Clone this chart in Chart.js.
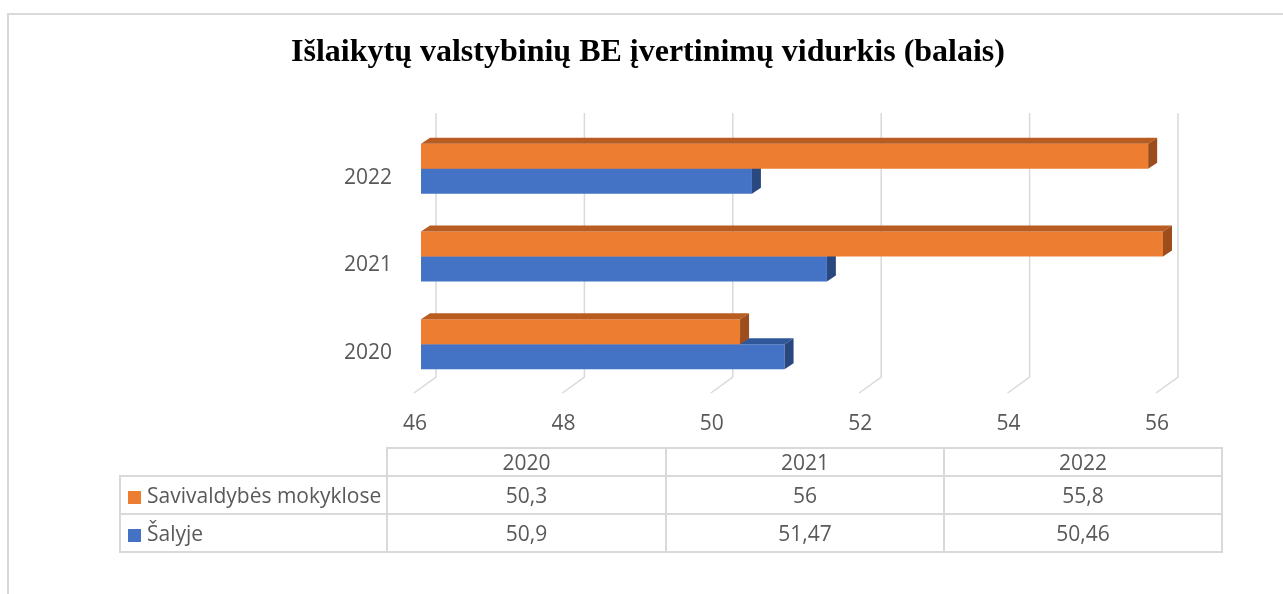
<!DOCTYPE html>
<html>
<head>
<meta charset="utf-8">
<script src="https://cdn.jsdelivr.net/npm/chart.js@4.4.0/dist/chart.umd.min.js"></script>
<style>
  html, body { margin: 0; padding: 0; background: #fff; overflow: hidden; width: 1283px; height: 594px; }
  #frame { position: absolute; left: 7px; top: 13px; width: 1400px; height: 700px; border: 2px solid #d9d9d9; box-sizing: border-box; }
  #wrap { position: absolute; left: 0; top: 0; width: 1283px; height: 594px; }
  #tbl { position: absolute; left: 119px; top: 447px; border-collapse: collapse; font-family: "Open Sans", sans-serif; font-size: 21px; color: #595959; }
  #tbl td { border: 2px solid #d9d9d9; text-align: center; padding: 0; line-height: 1; }
  #tbl tr.h td { height: 26px; }
  #tbl tr.d td { height: 36px; }
  #tbl td.blank { border-top: none; border-left: none; }
  #tbl td.lab { text-align: left; padding-left: 7px; white-space: nowrap; }
  .mk { display: inline-block; width: 13px; height: 13px; margin-right: 6px; vertical-align: -1px; }
</style>
</head>
<body>
<div id="frame"></div>
<div id="wrap"><canvas id="c" width="1283" height="594"></canvas></div>
<table id="tbl"></table>
<script>
const title = 'Išlaikytų valstybinių BE įvertinimų vidurkis (balais)';
const categories = ['2020', '2021', '2022'];
const seriesNames = ['Savivaldybės mokyklose', 'Šalyje'];
const savivaldybes = [50.3, 56, 55.8];
const salyje = [50.9, 51.47, 50.46];
const xTicks = [46, 48, 50, 52, 54, 56];

const colors = {
  front: ['#ED7D31', '#4472C4'],
  top:   ['#B85C22', '#31579B'],
  side:  ['#9D4D1C', '#2A4880']
};
const DX = 9, DY = 6;

const gridPlugin = {
  id: 'grid3d',
  beforeDatasetsDraw(chart) {
    const xs = chart.scales.x, a = chart.chartArea, ctx = chart.ctx;
    ctx.save();
    ctx.strokeStyle = '#d9d9d9';
    ctx.lineWidth = 1.5;
    xs.ticks.forEach(t => {
      const px = xs.getPixelForValue(t.value);
      ctx.beginPath();
      ctx.moveTo(px + 15, a.top - 12);
      ctx.lineTo(px + 15, a.bottom - 11);
      ctx.lineTo(px - 7, a.bottom + 5);
      ctx.stroke();
    });
    ctx.restore();
  }
};

const facePlugin = {
  id: 'faces3d',
  afterDatasetDraw(chart, args) {
    const ctx = chart.ctx, i = args.index, a = chart.chartArea;
    ctx.save();
    args.meta.data.forEach(el => {
      const p = el.getProps(['x', 'y', 'base', 'height'], true);
      const top = p.y - p.height / 2, bot = p.y + p.height / 2;
      const l = Math.max(Math.min(p.base, p.x), a.left), r = Math.max(p.base, p.x);
      ctx.fillStyle = colors.top[i];
      ctx.beginPath();
      ctx.moveTo(l, top); ctx.lineTo(r, top); ctx.lineTo(r + DX, top - DY); ctx.lineTo(l + DX, top - DY);
      ctx.closePath(); ctx.fill();
      ctx.fillStyle = colors.side[i];
      ctx.beginPath();
      ctx.moveTo(r, top); ctx.lineTo(r, bot); ctx.lineTo(r + DX, bot - DY); ctx.lineTo(r + DX, top - DY);
      ctx.closePath(); ctx.fill();
    });
    ctx.restore();
  }
};

new Chart(document.getElementById('c'), {
  type: 'bar',
  data: {
    labels: categories,
    datasets: [
      { label: seriesNames[0], data: savivaldybes, backgroundColor: colors.front[0] },
      { label: seriesNames[1], data: salyje, backgroundColor: colors.front[1] }
    ]
  },
  options: {
    indexAxis: 'y',
    responsive: false,
    animation: false,
    events: [],
    categoryPercentage: 0.57,
    barPercentage: 1,
    layout: { padding: { left: 133, right: 120, top: 0, bottom: 146 } },
    plugins: {
      legend: { display: false },
      tooltip: { enabled: false },
      title: {
        display: true,
        text: title,
        color: '#000',
        font: { family: '"Liberation Serif", "Times New Roman", serif', size: 32, weight: 'bold', lineHeight: 1.2 },
        padding: { top: 34, bottom: 52.6 }
      }
    },
    scales: {
      x: {
        type: 'linear',
        min: 46, max: 56,
        afterBuildTicks: s => { s.ticks = xTicks.map(v => ({ value: v })); },
        afterFit: s => { s.height = 60; },
        grid: { display: false, drawTicks: false },
        border: { display: false },
        ticks: { color: '#595959', font: { family: '"Open Sans", sans-serif', size: 21 }, padding: 23, labelOffset: -6, maxRotation: 0 }
      },
      y: {
        reverse: true,
        afterFit: s => { s.width = 288; },
        grid: { display: false, drawTicks: false },
        border: { display: false },
        ticks: { color: '#595959', font: { family: '"Open Sans", sans-serif', size: 21 }, padding: 29, labelOffset: 9 }
      }
    }
  },
  plugins: [gridPlugin, facePlugin]
});

// data table below the chart
const fmt = v => String(v).replace('.', ',');
const tbl = document.getElementById('tbl');
const colW = [266, 277, 276, 276];
let html = '<tr class="h"><td class="blank" style="width:' + colW[0] + 'px"></td>';
categories.forEach((c, k) => { html += '<td style="width:' + colW[k + 1] + 'px">' + c + '</td>'; });
html += '</tr>';
[savivaldybes, salyje].forEach((arr, i) => {
  html += '<tr class="d"><td class="lab"><span class="mk" style="background:' + colors.front[i] + '"></span>' + seriesNames[i] + '</td>';
  arr.forEach(v => { html += '<td>' + fmt(v) + '</td>'; });
  html += '</tr>';
});
tbl.innerHTML = html;
</script>
</body>
</html>
